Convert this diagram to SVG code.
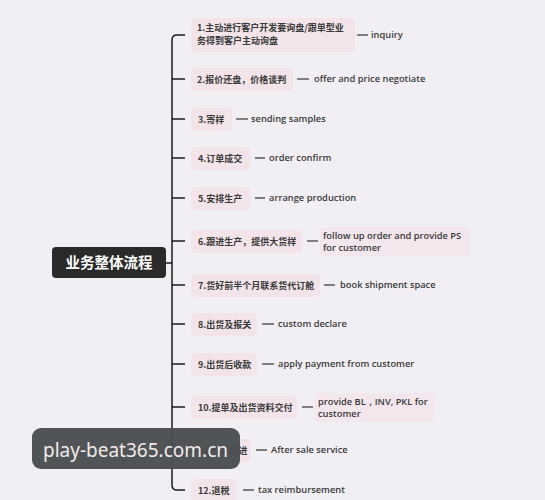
<svg xmlns="http://www.w3.org/2000/svg" width="545" height="500" viewBox="0 0 545 500">
<style>
.bg{fill:#f1eff3}
.cn{font-family:"Noto Sans CJK SC","Noto Sans",sans-serif;font-size:9px;font-weight:bold;fill:#3a3a3a}
.en{font-family:"Open Sans","Liberation Sans",sans-serif;font-size:9.3px;font-weight:600;fill:#3a3a3a}
.box{fill:#f2e4e9}
.ebox{fill:#f3e6ec}
.ln{stroke:#1e1e1e;stroke-width:1.5;fill:none}
.dash{stroke:#333;stroke-width:1.2}
</style>
<rect class="bg" x="0" y="0" width="545" height="500"/>
<g id="connectors">
<line class="ln" x1="165" y1="263" x2="172" y2="263"/>
<path class="ln" d="M185,35 H177 Q172,35 172,40 V485 Q172,490 177,490 H185"/>
<line class="ln" x1="172" y1="79" x2="185" y2="79"/>
<line class="ln" x1="172" y1="119" x2="185" y2="119"/>
<line class="ln" x1="172" y1="158" x2="185" y2="158"/>
<line class="ln" x1="172" y1="198" x2="185" y2="198"/>
<line class="ln" x1="172" y1="241" x2="185" y2="241"/>
<line class="ln" x1="172" y1="285" x2="185" y2="285"/>
<line class="ln" x1="172" y1="324" x2="185" y2="324"/>
<line class="ln" x1="172" y1="364" x2="185" y2="364"/>
<line class="ln" x1="172" y1="407" x2="185" y2="407"/>
<line class="ln" x1="172" y1="450" x2="185" y2="450"/>
</g>
<g id="root">
<rect x="52" y="247" width="114" height="31" rx="4" fill="#2a2a2a"/>
<text x="109" y="268" text-anchor="middle" font-family="Noto Sans CJK SC,sans-serif" font-size="14.5" font-weight="bold" fill="#fff">业务整体流程</text>
</g>
<g id="n1">
<rect class="box" x="191" y="18" width="164" height="34" rx="4"/>
<text class="cn" x="197" y="31">1.主动进行客户开发要询盘/跟单型业</text>
<text class="cn" x="197" y="44">务得到客户主动询盘</text>
<line class="dash" x1="357" y1="35" x2="368" y2="35"/>
<text class="en" x="371" y="38">inquiry</text>
</g>
<g id="n2">
<rect class="box" x="191" y="68" width="102" height="23" rx="4"/>
<text class="cn" x="197" y="82.5">2.报价还盘，价格谈判</text>
<line class="dash" x1="297" y1="79" x2="309" y2="79"/>
<text class="en" x="314" y="82">offer and price negotiate</text>
</g>
<g id="n3">
<rect class="box" x="191" y="108" width="41" height="23" rx="4"/>
<text class="cn" x="198" y="122.5">3.寄样</text>
<line class="dash" x1="236" y1="119" x2="248" y2="119"/>
<text class="en" x="251" y="122">sending samples</text>
</g>
<g id="n4">
<rect class="box" x="191" y="147" width="59" height="23" rx="4"/>
<text class="cn" x="198" y="161.5">4.订单成交</text>
<line class="dash" x1="255" y1="158" x2="265" y2="158"/>
<text class="en" x="269" y="161">order confirm</text>
</g>
<g id="n5">
<rect class="box" x="191" y="187" width="59" height="23" rx="4"/>
<text class="cn" x="198" y="201.5">5.安排生产</text>
<line class="dash" x1="255" y1="198" x2="265" y2="198"/>
<text class="en" x="269" y="201">arrange production</text>
</g>
<g id="n6">
<rect class="box" x="191" y="230" width="111" height="23" rx="4"/>
<text class="cn" x="198" y="244.5">6.跟进生产，提供大货样</text>
<line class="dash" x1="307" y1="241" x2="318" y2="241"/>
<rect class="ebox" x="320" y="227" width="150" height="29" rx="4"/>
<text class="en" x="323" y="239">follow up order and provide PS</text>
<text class="en" x="323" y="251">for customer</text>
</g>
<g id="n7">
<rect class="box" x="191" y="274" width="129" height="23" rx="4"/>
<text class="cn" x="198" y="288.5">7.货好前半个月联系货代订舱</text>
<line class="dash" x1="324" y1="285" x2="335" y2="285"/>
<text class="en" x="340" y="288">book shipment space</text>
</g>
<g id="n8">
<rect class="box" x="191" y="313" width="66" height="23" rx="4"/>
<text class="cn" x="198" y="327.5">8.出货及报关</text>
<line class="dash" x1="262" y1="324" x2="274" y2="324"/>
<text class="en" x="278" y="327">custom declare</text>
</g>
<g id="n9">
<rect class="box" x="191" y="353" width="66" height="23" rx="4"/>
<text class="cn" x="198" y="367.5">9.出货后收款</text>
<line class="dash" x1="262" y1="364" x2="274" y2="364"/>
<text class="en" x="278" y="367">apply payment from customer</text>
</g>
<g id="n10">
<rect class="box" x="191" y="396" width="106" height="23" rx="4"/>
<text class="cn" x="198" y="410.5">10.提单及出货资料交付</text>
<line class="dash" x1="302" y1="407" x2="313" y2="407"/>
<rect class="ebox" x="315" y="393" width="120" height="29" rx="4"/>
<text class="en" x="318" y="405">provide BL，INV, PKL for</text>
<text class="en" x="318" y="417">customer</text>
</g>
<g id="n11">
<rect class="box" x="191" y="439" width="60" height="23" rx="4"/>
<text class="cn" x="198" y="453.5">11.售后跟进</text>
<line class="dash" x1="256" y1="450" x2="267" y2="450"/>
<text class="en" x="271" y="453">After sale service</text>
</g>
<g id="n12">
<rect class="box" x="191" y="479" width="45" height="23" rx="4"/>
<text class="cn" x="198" y="493.5">12.退税</text>
<line class="dash" x1="243" y1="490" x2="254" y2="490"/>
<text class="en" x="258" y="493">tax reimbursement</text>
</g>
<g id="watermark">
<rect x="32" y="428" width="208" height="41" rx="9" fill="#4b4e52" fill-opacity="0.97"/>
<text x="43" y="457" font-family="Noto Sans,sans-serif" font-size="19" fill="#f3ebea" textLength="185" lengthAdjust="spacingAndGlyphs">play-beat365.com.cn</text>
</g>
</svg>
